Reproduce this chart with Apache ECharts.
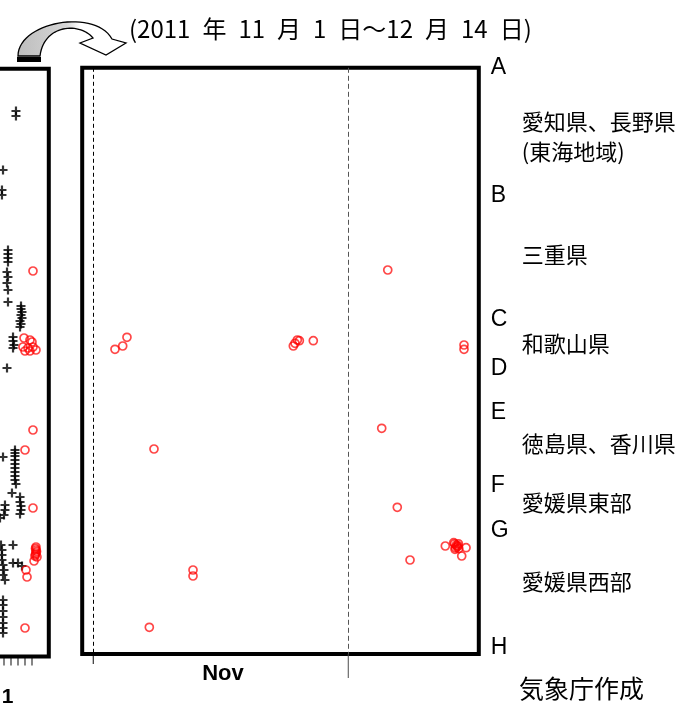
<!DOCTYPE html>
<html>
<head>
<meta charset="utf-8">
<script src="https://cdn.jsdelivr.net/npm/echarts@6/dist/echarts.min.js"></script>
<style>
html,body{margin:0;padding:0;background:#fff;}
#chart{width:691px;height:707px;}
</style>
</head>
<body>
<div id="chart"></div>
<script>
// ---- Main panel: days since 2011-11-01 (x) and position along coast (y, top = A) ----
const mainQuakes = [
  [2.55, 281.5], [3.46, 278.2], [3.96, 269.5],
  [23.53, 278.2], [23.73, 275.5], [24.0, 272.2], [24.24, 272.9], [25.88, 272.9],
  [34.64, 202.2], [43.61, 277.2], [43.61, 281.5],
  [33.93, 360.5], [35.76, 439.5], [37.26, 492.2], [41.41, 478.2],
  [42.5, 476.0], [42.7, 477.5], [42.8, 479.0], [42.6, 480.0], [42.9, 478.0],
  [42.4, 474.8], [42.55, 481.5], [42.95, 476.0], [43.0, 480.8],
  [43.85, 479.9], [43.34, 488.2],
  [7.14, 381.2], [11.73, 502.2], [11.73, 508.2], [6.59, 559.5]
];
const monthLines = [0, 30];
const monthLabelPos = [15.25];
const monthLabels = ['Nov'];

// ---- Left (previous) panel ----
const leftCrosses = [
  [2.71, 42.3], [2.71, 47.3], [0.86, 101.3], [0.71, 121.3], [0.71, 126.3],
  [1.57, 181.3], [1.57, 185.3], [1.57, 189.3], [1.57, 193.3], [1.43, 203.3], [1.57, 208.3], [1.43, 214.3], [1.57, 221.3], [1.57, 233.3],
  [3.43, 237.3], [3.43, 240.3], [3.57, 243.3], [3.43, 246.3], [3.57, 249.3], [3.29, 252.3], [3.43, 255.3], [3.29, 258.3],
  [2.29, 268.3], [2.29, 272.3], [2.43, 276.3], [2.29, 279.3],
  [1.43, 299.3],
  [0.86, 388.3], [2.57, 381.3], [2.57, 384.3], [2.57, 387.3], [2.57, 391.3], [2.57, 395.3], [2.57, 399.3], [2.57, 403.3], [2.57, 407.3], [2.57, 411.3], [2.71, 415.3], [2.14, 424.3],
  [3.29, 428.3], [3.29, 433.3], [3.43, 437.3], [3.43, 441.3], [3.29, 445.3], [1.14, 436.3], [1.14, 441.3], [1.0, 446.3], [0.43, 449.3],
  [2.29, 476.3], [0.57, 476.3], [0.71, 481.3], [0.71, 486.3], [0.71, 491.3], [0.86, 496.3], [1.0, 501.3], [0.86, 506.3], [1.14, 511.3], [2.29, 494.3], [3.0, 494.3], [3.57, 497.3],
  [0.86, 531.3], [0.86, 536.3], [0.86, 542.3], [0.86, 548.3], [0.86, 554.3], [0.86, 559.3], [0.86, 564.3]
];
const leftQuakes = [
  [5.14, 202.3], [3.86, 269.3], [4.71, 271.3], [5.0, 273.3], [3.71, 278.3], [4.43, 279.3], [5.14, 278.3], [5.57, 281.3], [4.0, 282.3], [4.71, 282.3],
  [5.14, 361.3], [4.0, 381.3], [5.14, 439.3], [5.57, 478.3], [5.57, 481.3], [5.57, 484.3], [5.43, 487.3], [5.71, 488.3],
  [5.5, 479.8], [5.65, 482.8], [5.5, 485.8],
  [5.29, 492.3], [4.14, 501.3], [4.29, 508.3], [4.0, 559.3]
];
const leftTicks = [1, 2, 3, 4, 5];
const leftLabelPos = [1.5];
const leftLabels = ['1'];

// ---- Region boundaries and names ----
const boundaryPos = [0, 128, 252, 301, 345, 418, 463, 580];
const boundaryNames = ['A', 'B', 'C', 'D', 'E', 'F', 'G', 'H'];
const regionPos = [69.2, 187, 276, 376, 435, 514];
const regionNames = ['愛知県、長野県\n(東海地域)', '三重県', '和歌山県', '徳島県、香川県', '愛媛県東部', '愛媛県西部'];

const titleText = '(2011\u2002年\u200211\u2002月\u20021\u2002日～12\u2002月\u200214\u2002日)';
const creditText = '気象庁作成';

const CJK = '"Noto Sans CJK JP", "Noto Sans CJK SC", sans-serif';
const LAT = '"Liberation Sans", Arial, sans-serif';
const chart = echarts.init(document.getElementById('chart'), null, {renderer: 'canvas'});

const circleStyle = {color: 'rgba(255,255,255,0)', borderColor: 'rgba(255,0,0,0.9)', borderWidth: 1.7};
const MAIN_MIN = -1.306, MAIN_MAX = 45.35, MAIN_YMAX = 586.2;
const LEFT_XMIN = -28.14, LEFT_XMAX = 7.4, LEFT_YMAX = 587.8;

// decorative curved arrow outline (cubic bezier sampled to a polygon)
function bez(p0, p1, p2, p3, n) {
  const pts = [];
  for (let i = 0; i <= n; i++) {
    const t = i / n, u = 1 - t;
    pts.push([
      u*u*u*p0[0] + 3*u*u*t*p1[0] + 3*u*t*t*p2[0] + t*t*t*p3[0],
      u*u*u*p0[1] + 3*u*u*t*p1[1] + 3*u*t*t*p2[1] + t*t*t*p3[1]
    ]);
  }
  return pts;
}
const arrowPts = [].concat(
  bez([18, 56], [18, 22], [95, 8], [112, 39], 30),
  [[126, 43], [106, 55], [80, 43], [93, 38]],
  bez([93, 38], [80, 22], [44, 24], [40, 56], 30)
);

const hiddenAxis = {axisLine: {show: false}, axisTick: {show: false}, splitLine: {show: false}};

const option = {
  animation: false,
  backgroundColor: '#fff',
  title: [
    {text: titleText, left: 124, top: 12, textStyle: {fontSize: 24, fontWeight: 'normal', fontFamily: CJK, color: '#000'}},
    {text: creditText, left: 514, top: 671, textStyle: {fontSize: 25, fontWeight: 'normal', fontFamily: CJK, color: '#000'}}
  ],
  grid: [
    {left: -200, right: 691 - 48.8, top: 68.7, bottom: 50.5, show: true, borderColor: '#000', borderWidth: 4,
      backgroundColor: 'rgba(0,0,0,0)', containLabel: false, outerBoundsMode: 'none'},
    {left: 82.2, right: 212.2, top: 67.8, bottom: 53, show: true, borderColor: '#000', borderWidth: 4,
      backgroundColor: 'rgba(0,0,0,0)', containLabel: false, outerBoundsMode: 'none'}
  ],
  xAxis: [
    Object.assign({type: 'value', gridIndex: 0, min: LEFT_XMIN, max: LEFT_XMAX, position: 'bottom',
      axisLabel: {show: true, customValues: leftLabelPos, margin: 30, formatter: v => leftLabels[leftLabelPos.indexOf(v)],
        fontSize: 21, fontWeight: 'bold', fontFamily: LAT, color: '#000'}}, hiddenAxis),
    Object.assign({type: 'value', gridIndex: 1, min: MAIN_MIN, max: MAIN_MAX, position: 'bottom',
      axisLabel: {show: true, customValues: monthLabelPos, margin: 9, formatter: v => monthLabels[monthLabelPos.indexOf(v)],
        fontSize: 22, fontWeight: 'bold', fontFamily: LAT, color: '#000'}}, hiddenAxis)
  ],
  yAxis: [
    {type: 'value', gridIndex: 0, min: 0, max: LEFT_YMAX, inverse: true, show: false},
    Object.assign({type: 'value', gridIndex: 1, min: 0, max: MAIN_YMAX, inverse: true, position: 'right',
      axisLabel: {show: true, customValues: boundaryPos, margin: 12, formatter: v => boundaryNames[boundaryPos.indexOf(v)],
        fontSize: 23, fontFamily: LAT, color: '#000', align: 'left', verticalAlign: 'middle'}}, hiddenAxis),
    Object.assign({type: 'value', gridIndex: 1, min: 0, max: MAIN_YMAX, inverse: true, position: 'right',
      axisLabel: {show: true, customValues: regionPos, margin: 43, formatter: v => regionNames[regionPos.indexOf(v)],
        fontSize: 22, lineHeight: 30, fontFamily: CJK, color: '#000', align: 'left', verticalAlign: 'middle'}}, hiddenAxis)
  ],
  series: [
    {type: 'scatter', xAxisIndex: 0, yAxisIndex: 0, data: leftCrosses,
      symbol: 'path://M0 5H10M5 0V10', symbolSize: 9,
      itemStyle: {color: 'none', borderColor: '#000', borderWidth: 2.2}},
    {type: 'scatter', xAxisIndex: 0, yAxisIndex: 0, data: leftQuakes,
      symbol: 'circle', symbolSize: 8, itemStyle: circleStyle},
    // left panel date ticks, hanging below the frame
    {type: 'scatter', xAxisIndex: 0, yAxisIndex: 0, clip: false, silent: true,
      data: leftTicks.map(v => [v, LEFT_YMAX + 4.5]),
      symbol: 'rect', symbolSize: [1.2, 9], itemStyle: {color: '#000'}},
    // month boundary ticks below the main frame
    {type: 'scatter', xAxisIndex: 1, yAxisIndex: 1, clip: false, silent: true,
      data: [[monthLines[0], MAIN_YMAX + 5]], symbol: 'rect', symbolSize: [1.2, 10], itemStyle: {color: '#000'}},
    {type: 'scatter', xAxisIndex: 1, yAxisIndex: 1, clip: false, silent: true,
      data: [[monthLines[1], MAIN_YMAX + 12]], symbol: 'rect', symbolSize: [1.2, 24], itemStyle: {color: '#444'}},
    {type: 'scatter', xAxisIndex: 1, yAxisIndex: 1, data: mainQuakes,
      symbol: 'circle', symbolSize: 8, itemStyle: circleStyle,
      markLine: {silent: true, symbol: 'none', label: {show: false},
        data: [
          {xAxis: monthLines[0], lineStyle: {color: '#000', type: [4, 3], width: 1}},
          {xAxis: monthLines[1], lineStyle: {color: '#555', type: [5, 3], width: 1}}
        ]}}
  ],
  graphic: [
    {type: 'polygon', shape: {points: arrowPts},
      style: {fill: {type: 'linear', x: 0, y: 0, x2: 1, y2: 0, colorStops: [
        {offset: 0, color: '#bdbdbd'}, {offset: 0.45, color: '#d6d6d6'}, {offset: 0.58, color: '#ffffff'}, {offset: 1, color: '#ffffff'}]},
        stroke: '#000', lineWidth: 1.3}},
    {type: 'rect', shape: {x: 17, y: 57, width: 24, height: 5}, style: {fill: '#000'}}
  ]
};
chart.setOption(option);
</script>
</body>
</html>
